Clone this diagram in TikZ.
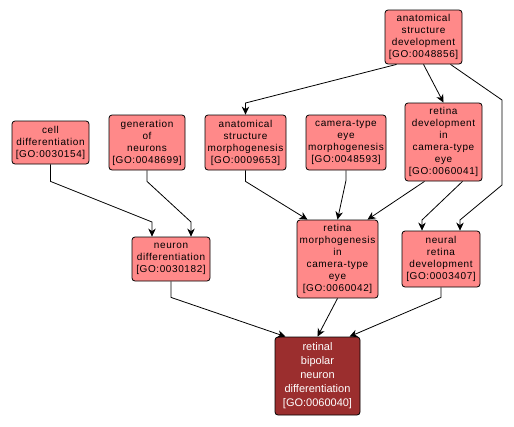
\documentclass[tikz,border=0pt]{standalone}
\usepackage{fontspec}
\setmainfont{Liberation Sans}
\newfontfamily\spacedfont[LetterSpace=6]{Liberation Sans}
\usetikzlibrary{arrows.meta}
\definecolor{salmon}{RGB}{255,137,137}
\definecolor{darkred}{RGB}{155,46,46}
\begin{document}
\begin{tikzpicture}[x=1pt,y=-1pt,
  box/.style={draw=black, line width=0.8pt, rounded corners=3pt, fill=salmon, align=center,
    inner sep=0pt, font=\spacedfont\fontsize{10}{12}\selectfont, text=black},
  mainbox/.style={box, fill=darkred, text=white, font=\rmfamily\fontsize{11}{14}\selectfont},
  edge/.style={draw=black, line width=0.8pt, -{Stealth[length=8pt,width=7.5pt,inset=2.5pt]}}]
\useasboundingbox (0,0) rectangle (514,426);
\fill[white] (0,0) rectangle (514,426);

\node[box, minimum width=77pt, minimum height=54pt] (asd) at (423.5,37) {anatomical\\structure\\development\\{[GO:0048856]}};
\node[box, minimum width=77pt, minimum height=43pt] (cd) at (50.5,142.5) {cell\\differentiation\\{[GO:0030154]}};
\node[box, minimum width=76pt, minimum height=55pt] (gn) at (147,142.5) {generation\\of\\neurons\\{[GO:0048699]}};
\node[box, minimum width=81pt, minimum height=55pt] (asm) at (245.5,142.5) {anatomical\\structure\\morphogenesis\\{[GO:0009653]}};
\node[box, minimum width=80pt, minimum height=55pt] (cem) at (346,142.5) {camera-type\\eye\\morphogenesis\\{[GO:0048593]}};
\node[box, minimum width=77pt, minimum height=78pt] (rdev) at (443.5,142) {retina\\development\\in\\camera-type\\eye\\{[GO:0060041]}};
\node[box, minimum width=78pt, minimum height=44pt] (nd) at (171,259) {neuron\\differentiation\\{[GO:0030182]}};
\node[box, minimum width=81pt, minimum height=78pt] (rm) at (337.5,259) {retina\\morphogenesis\\in\\camera-type\\eye\\{[GO:0060042]}};
\node[box, minimum width=78pt, minimum height=56pt] (nrd) at (441,259) {neural\\retina\\development\\{[GO:0003407]}};
\node[mainbox, minimum width=85pt, minimum height=78pt] (rbn) at (317.5,376) {retinal\\bipolar\\neuron\\differentiation\\{[GO:0060040]}};

\draw[edge] ([xshift=-27pt]asd.south) -- (245.5,103) -- (asm.north);
\draw[edge] (asd.south) -- (rdev.north);
\draw[edge] ([xshift=27pt]asd.south) -- (502,100) -- (502,185) -- (460,220) -- ([xshift=19pt]nrd.north);
\draw[edge] ([xshift=19pt]rdev.south) -- (422,220) -- ([xshift=-19pt]nrd.north);
\draw[edge] ([xshift=-19pt]rdev.south) -- ([xshift=30pt]rm.north);
\draw[edge] (cem.south) -- ++(0,10) -- (rm.north);
\draw[edge] (asm.south) -- ++(0,11) -- ([xshift=-30pt]rm.north);
\draw[edge] (cd.south) -- ++(0,17) -- (152,222) -- ([xshift=-19pt]nd.north);
\draw[edge] (gn.south) -- ++(0,11) -- (191,222) -- ([xshift=20pt]nd.north);
\draw[edge] (nd.south) -- ++(0,16) -- ([xshift=-32pt]rbn.north);
\draw[edge] (rm.south) -- (rbn.north);
\draw[edge] (nrd.south) -- ++(0,10) -- ([xshift=32pt]rbn.north);
\end{tikzpicture}
\end{document}
